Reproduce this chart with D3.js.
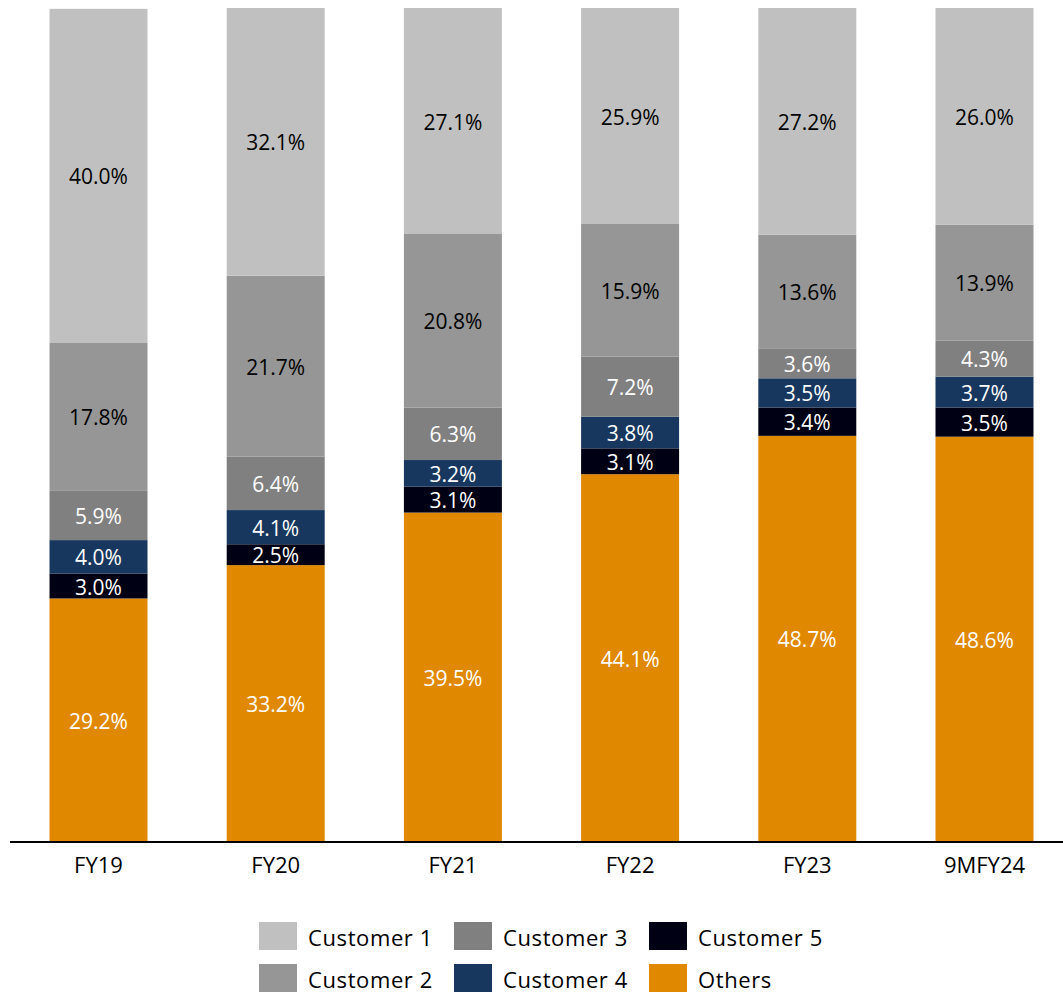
<!DOCTYPE html>
<html><head><meta charset="utf-8">
<script src="https://cdn.jsdelivr.net/npm/d3@7"></script>
<style>body{margin:0;background:#fff}svg{display:block}text{font-family:"Open Sans",sans-serif}</style>
</head><body>
<svg id="c" width="1063" height="994"></svg>
<script>
const categories = ["FY19","FY20","FY21","FY22","FY23","9MFY24"];
const seriesNames = ["Others","Customer 5","Customer 4","Customer 3","Customer 2","Customer 1"];
const others    = [29.2,33.2,39.5,44.1,48.7,48.6];
const customer5 = [3.0,2.5,3.1,3.1,3.4,3.5];
const customer4 = [4.0,4.1,3.2,3.8,3.5,3.7];
const customer3 = [5.9,6.4,6.3,7.2,3.6,4.3];
const customer2 = [17.8,21.7,20.8,15.9,13.6,13.9];
const customer1 = [40.0,32.1,27.1,25.9,27.2,26.0];
const seriesValues = [others,customer5,customer4,customer3,customer2,customer1];

const colors = {"Others":"#E08800","Customer 5":"#000014","Customer 4":"#17375E","Customer 3":"#808080","Customer 2":"#969696","Customer 1":"#C0C0C0"};
const textColors = {"Others":"#fff","Customer 5":"#fff","Customer 4":"#fff","Customer 3":"#fff","Customer 2":"#000","Customer 1":"#000"};

const svg = d3.select("#c");
const x = d3.scaleBand().domain(categories).range([10,1073]).paddingInner(0.447).paddingOuter(0.223);
const y = d3.scaleLinear().domain([0,100]).range([842,8]);

const rows = categories.map((c,i)=>{const r={cat:c}; seriesNames.forEach((s,j)=>r[s]=seriesValues[j][i]); return r;});
const stack = d3.stack().keys(seriesNames)(rows);

const g = svg.append("g");
stack.forEach(layer=>{
  const key = layer.key;
  const lg = g.append("g");
  lg.selectAll("rect").data(layer).join("rect")
    .attr("x",d=>x(d.data.cat)).attr("width",x.bandwidth())
    .attr("y",d=>y(d[1])).attr("height",d=>y(d[0])-y(d[1]))
    .attr("fill",colors[key]);
  lg.selectAll("text").data(layer).join("text")
    .attr("x",d=>x(d.data.cat)+x.bandwidth()/2)
    .attr("y",d=>(y(d[0])+y(d[1]))/2+1)
    .attr("dy","0.36em").attr("text-anchor","middle")
    .attr("font-size",21).attr("fill",textColors[key])
    .text(d=>d.data[key].toFixed(1)+"%");
});

// axis
const ax = svg.append("g").attr("transform","translate(0,842)")
  .call(d3.axisBottom(x).tickSize(0).tickPadding(15));
ax.select(".domain").attr("d","M10,0H1063").attr("stroke","#000").attr("stroke-width",2);
ax.selectAll("text").attr("font-size",22).attr("fill","#000").style("font-family","'Open Sans',sans-serif");

// legend
const legendItems = [
  {name:"Customer 1",col:0,row:0},{name:"Customer 3",col:1,row:0},{name:"Customer 5",col:2,row:0},
  {name:"Customer 2",col:0,row:1},{name:"Customer 4",col:1,row:1},{name:"Others",col:2,row:1}];
const colX=[259,454,649], rowY=[922,964];
const lgd = svg.append("g");
legendItems.forEach(it=>{
  lgd.append("rect").attr("x",colX[it.col]).attr("y",rowY[it.row]).attr("width",38).attr("height",28).attr("fill",colors[it.name]);
  lgd.append("text").attr("x",colX[it.col]+49).attr("y",rowY[it.row]+16).attr("dy","0.36em")
    .attr("font-size",22).attr("letter-spacing","0.6px").attr("fill","#000").text(it.name);
});
</script>
</body></html>
